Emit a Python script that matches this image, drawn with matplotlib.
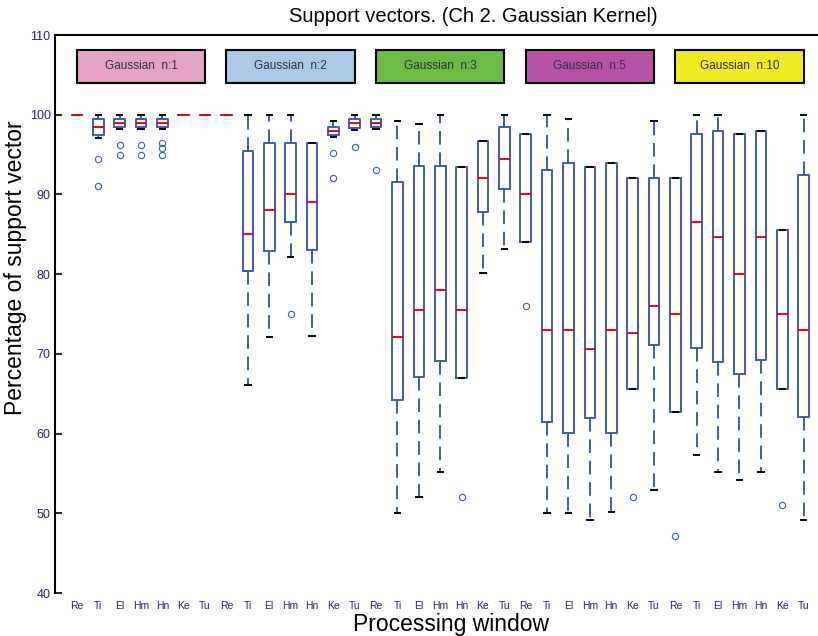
import matplotlib
matplotlib.use('Agg')
import matplotlib.pyplot as plt
from matplotlib.patches import Rectangle

plt.rcParams['font.family'] = ['Liberation Sans', 'DejaVu Sans']

# processing windows, repeated for every kernel setting
windows = ['Re', 'Ti', 'El', 'Hm', 'Hn', 'Ke', 'Tu']
kernels = ['Gaussian  n:1', 'Gaussian  n:2', 'Gaussian  n:3', 'Gaussian  n:5', 'Gaussian  n:10']
kernel_colors = ['#e2a3c4', '#a9c8ea', '#6cbb45', '#b552a6', '#f3e922']

# box statistics, 7 windows per kernel
whislo = [100, 97.1, 98.2, 98.2, 98.2, 100, 100,
          100, 66.1, 72.1, 82.1, 72.2, 97.2, 98.1,
          98.2, 50.0, 52.1, 55.2, 67.0, 80.2, 83.1,
          84.0, 50.0, 50.0, 49.2, 50.1, 65.6, 52.9,
          62.7, 57.3, 55.2, 54.2, 55.2, 65.6, 49.2]
q1 = [100, 97.5, 98.4, 98.4, 98.4, 100, 100,
      100, 80.4, 82.9, 86.5, 83.0, 97.5, 98.3,
      98.4, 64.2, 67.1, 69.1, 67.0, 87.8, 90.7,
      84.0, 61.5, 60.1, 62.0, 60.1, 65.6, 71.1,
      62.7, 70.7, 69.0, 67.5, 69.2, 65.6, 62.1]
med = [100, 98.5, 99.0, 99.0, 99.0, 100, 100,
       100, 85.0, 88.0, 90.0, 89.0, 97.9, 99.0,
       99.0, 72.1, 75.5, 78.0, 75.5, 92.0, 94.5,
       90.0, 73.0, 73.0, 70.6, 73.0, 72.6, 76.0,
       75.0, 86.5, 84.6, 80.0, 84.6, 75.0, 73.0]
q3 = [100, 99.4, 99.5, 99.5, 99.5, 100, 100,
      100, 95.4, 96.5, 96.5, 96.5, 98.5, 99.5,
      99.5, 91.5, 93.6, 93.6, 93.5, 96.7, 98.5,
      97.6, 93.1, 94.0, 93.5, 94.0, 92.0, 92.0,
      92.0, 97.6, 97.9, 97.6, 98.0, 85.6, 92.4]
whishi = [100, 100, 100, 100, 100, 100, 100,
          100, 100, 100, 100, 96.5, 99.2, 100,
          100, 99.2, 98.8, 100, 93.5, 96.7, 100,
          97.6, 100, 99.4, 93.5, 94.0, 92.0, 99.2,
          92.0, 100, 100, 97.6, 98.0, 85.6, 100]
fliers = [[], [94.4, 91.0], [96.2, 95.0], [96.2, 95.0], [96.5, 95.8, 95.0], [], [],
          [], [], [], [75.0], [], [95.2, 92.0], [96.0],
          [93.1], [], [], [], [52.1], [], [],
          [76.0], [], [], [], [], [52.1], [],
          [47.1], [], [], [], [], [51.1], []]

# windows that carry a tick mark in the original
marked = [2, 3, 4, 7, 9, 10, 11, 14, 16, 17, 18, 21, 23, 24, 28, 30, 31, 35]

blue = '#3d5bb8'
stats = []
for i in range(len(med)):
    stats.append(dict(whislo=whislo[i], q1=q1[i], med=med[i], q3=q3[i],
                      whishi=whishi[i], fliers=fliers[i]))
positions = list(range(1, len(med) + 1))

fig = plt.figure(figsize=(8.18, 6.36), dpi=100)
ax = fig.add_axes([55.5 / 818, 43 / 636, 769.5 / 818, 558 / 636])

ax.bxp(stats, positions=positions, widths=0.5, capwidths=0.25,
       boxprops=dict(color=blue, linewidth=1.4),
       medianprops=dict(color='red', linewidth=1.4),
       whiskerprops=dict(color=blue, linewidth=1.4, linestyle=(0, (7, 4))),
       capprops=dict(color='black', linewidth=1.4),
       flierprops=dict(marker='o', markersize=4.5, markerfacecolor='none',
                       markeredgecolor=blue, markeredgewidth=0.8))

# coloured kernel labels along the top
for g, (name, col) in enumerate(zip(kernels, kernel_colors)):
    ax.add_patch(Rectangle((g * 7 + 1, 104.0), 6, 4.1, facecolor=col,
                           edgecolor='black', linewidth=1.5, zorder=3))
    ax.text(g * 7 + 4, 106.05, name, ha='center', va='center',
            fontsize=8.5, color='#303040', zorder=4)

ax.set_xlim(0, 36)
ax.set_ylim(40, 110)

ax.set_xticks(positions)
ax.set_xticklabels(windows * len(kernels), fontsize=7.5, color='#28246e')
ax.tick_params(axis='x', which='major', length=0, pad=6)
ax.set_xticks(marked, minor=True)
ax.tick_params(axis='x', which='minor', direction='in', length=5,
               width=1.2, top=True, bottom=True)

ax.set_yticks(range(40, 111, 10))
ax.tick_params(axis='y', direction='in', length=5, width=1.2,
               left=True, right=True, labelsize=9, labelcolor='#28246e')

ax.spines['bottom'].set_visible(False)
for s in ['left', 'top', 'right']:
    ax.spines[s].set_linewidth(1.5)

fig.text(473 / 818, 1 - 17 / 636, 'Support vectors. (Ch 2. Gaussian Kernel)',
         ha='center', va='center', fontsize=14.5)
fig.text(451 / 818, 1 - 624 / 636, 'Processing window',
         ha='center', va='center', fontsize=16.5)
fig.text(16 / 818, 1 - 268 / 636, 'Percentage of support vector',
         ha='center', va='center', rotation=90, fontsize=16.5)

fig.savefig('out.png', dpi=100)
